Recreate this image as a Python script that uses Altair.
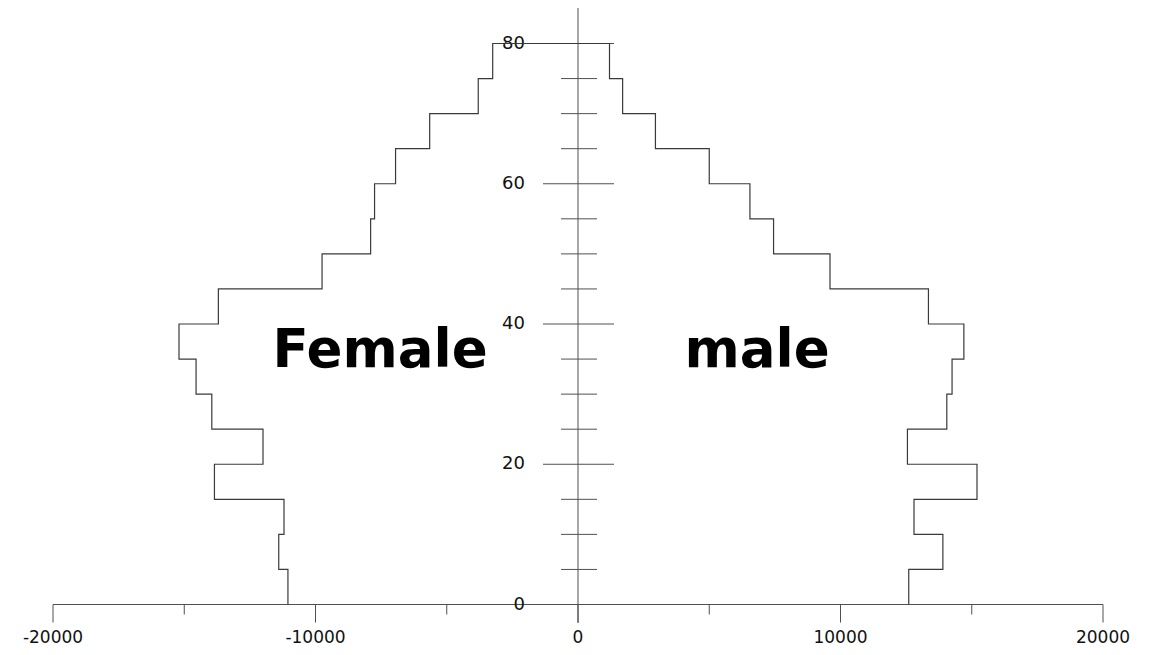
import altair as alt
import pandas as pd

# Age groups (lower bound of 5-year bins) and population counts
age_lower = [0, 5, 10, 15, 20, 25, 30, 35, 40, 45, 50, 55, 60, 65, 70, 75]
female = [11050, 11400, 11200, 13850, 12000, 13950, 14550, 15200,
          13700, 9750, 7900, 7750, 6950, 5650, 3800, 3250]
male = [12600, 13900, 12800, 15200, 12550, 14050, 14250, 14700,
        13350, 9600, 7450, 6550, 5000, 2950, 1700, 1200]

y_ticks = [0, 5, 10, 15, 20, 25, 30, 35, 40, 45, 50, 55, 60, 65, 70, 75, 80]
y_major_labels = [0, 20, 40, 60, 80]
x_ticks = [-20000, -15000, -10000, -5000, 0, 5000, 10000, 15000, 20000]
x_major_labels = [-20000, -10000, 0, 10000, 20000]
group_labels = ["Female", "male"]
group_x = [-7540, 6820]
group_y = [33.9, 33.9]

# Step outline of the pyramid (female side bottom->top, then male top->bottom)
pts = []
for a, f in zip(age_lower, female):
    pts.append((-f, a))
    pts.append((-f, a + 5))
for a, m in reversed(list(zip(age_lower, male))):
    pts.append((m, a + 5))
    pts.append((m, a))
outline = pd.DataFrame({"x": [p[0] for p in pts], "y": [p[1] for p in pts],
                        "order": list(range(len(pts)))})

ytick_df = pd.DataFrame({"y": y_ticks, "major": [v % 20 == 0 for v in y_ticks]})
xtick_df = pd.DataFrame({"x": x_ticks, "major": [v % 10000 == 0 for v in x_ticks]})
ylab_df = pd.DataFrame({"y": y_major_labels, "t": [str(v) for v in y_major_labels]})
xlab_df = pd.DataFrame({"x": x_major_labels, "t": [str(v) for v in x_major_labels]})
grp_df = pd.DataFrame({"x": group_x, "y": group_y, "t": group_labels})

xs = alt.Scale(domain=[-20000, 20000], range=[45, 1095], nice=False, zero=False)
ys = alt.Scale(domain=[0, 80], range=[596.5, 35.5], nice=False, zero=False)
X = lambda f: alt.X(f, type="quantitative", scale=xs, axis=None)
Y = lambda f: alt.Y(f, type="quantitative", scale=ys, axis=None)
X0 = alt.X(datum=0, scale=xs, axis=None, type="quantitative")
Y0 = alt.Y(datum=0, scale=ys, axis=None, type="quantitative")

AX = "#505050"
base = alt.Chart(pd.DataFrame({"d": [0]}))

x_axis = base.mark_rule(color=AX, strokeWidth=1).encode(
    x=alt.X(datum=-20000, scale=xs, axis=None, type="quantitative"),
    x2=alt.datum(20000), y=Y0)
y_axis = base.mark_rule(color=AX, strokeWidth=1).encode(
    x=X0,
    y=alt.Y(datum=-2.64, scale=ys, axis=None, type="quantitative"),
    y2=alt.datum(85.5))

ytick_major = alt.Chart(ytick_df).transform_filter("datum.major").mark_rule(
    color=AX, strokeWidth=1, xOffset=-35, x2Offset=36).encode(
    x=X0, x2=alt.datum(0), y=Y("y"))
ytick_minor = alt.Chart(ytick_df).transform_filter("!datum.major").mark_rule(
    color=AX, strokeWidth=1, xOffset=-17, x2Offset=19).encode(
    x=X0, x2=alt.datum(0), y=Y("y"))

xtick_major = alt.Chart(xtick_df).transform_filter("datum.major").mark_rule(
    color=AX, strokeWidth=1, y2Offset=18).encode(
    x=X("x"), y=Y0, y2=alt.datum(0))
xtick_minor = alt.Chart(xtick_df).transform_filter("!datum.major").mark_rule(
    color=AX, strokeWidth=1, y2Offset=10).encode(
    x=X("x"), y=Y0, y2=alt.datum(0))

ylabels = alt.Chart(ylab_df).mark_text(
    align="right", baseline="middle", dx=-53, font="DejaVu Sans",
    fontSize=18, color="#111111").encode(
    x=X0, y=Y("y"), text="t:N")
xlabels = alt.Chart(xlab_df).mark_text(
    align="center", baseline="middle", dy=33, font="DejaVu Sans",
    fontSize=17, color="#111111").encode(
    x=X("x"), y=Y0, text="t:N")

pyramid = alt.Chart(outline).mark_line(
    color="#3a3a3a", strokeWidth=1.2, interpolate="linear").encode(
    x=X("x"), y=Y("y"), order="order:Q")

groups = alt.Chart(grp_df).mark_text(
    align="center", baseline="alphabetic", font="DejaVu Sans",
    fontWeight="bold", fontSize=53, color="#000000").encode(
    x=X("x"), y=Y("y"), text="t:N")

chart = alt.layer(
    x_axis, y_axis, ytick_major, ytick_minor, xtick_major, xtick_minor,
    ylabels, xlabels, pyramid, groups
).properties(
    width=1134, height=639, padding=0, background="#ffffff",
    autosize=alt.AutoSizeParams(type="none")
).configure_view(stroke="transparent", strokeWidth=0)

chart.save("out.html", embed_options={"renderer": "svg", "actions": False})
